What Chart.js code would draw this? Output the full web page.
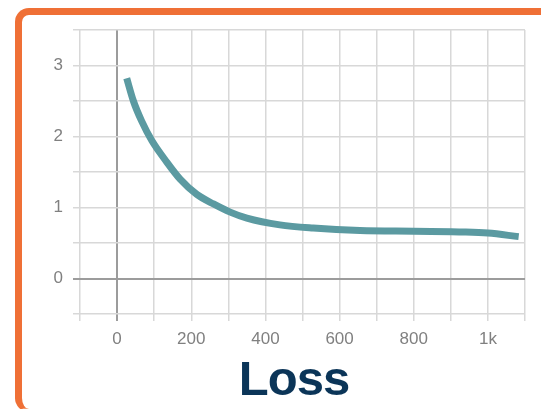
<!DOCTYPE html>
<html>
<head>
<meta charset="utf-8">
<script src="https://cdn.jsdelivr.net/npm/chart.js@4/dist/chart.umd.min.js"></script>
<style>
  html, body { margin: 0; padding: 0; background: #ffffff; }
  body { width: 541px; height: 409px; position: relative; overflow: hidden; }
  #frame {
    position: absolute; left: 15px; top: 8px; width: 580px; height: 394px;
    border: 7px solid #ef7036; border-bottom: 3px solid #f29a6c;
    border-radius: 14px; box-sizing: content-box;
  }
  #chart { position: absolute; left: 0; top: 0; }
  #title {
    position: absolute; left: 294px; top: 354px; transform: translateX(-50%);
    font: bold 49px "Liberation Sans", Arial, sans-serif; line-height: 49px;
    letter-spacing: -1px; color: #0b3558; white-space: nowrap;
  }
</style>
</head>
<body>
<div id="frame"></div>
<canvas id="chart" width="541" height="409"></canvas>
<div id="title">Loss</div>
<script>
// Data
const steps  = [26, 44, 66, 94, 134, 170, 215, 260, 305, 350, 439, 529, 655, 801, 940, 1000, 1083];
const losses = [2.82, 2.50, 2.22, 1.94, 1.64, 1.40, 1.185, 1.05, 0.935, 0.85, 0.755, 0.71, 0.675, 0.665, 0.655, 0.64, 0.59];
const xTickValues = [0, 200, 400, 600, 800, 1000];
const xTickText   = ['0', '200', '400', '600', '800', '1k'];
const yTickValues = [0, 1, 2, 3];
const yTickText   = ['0', '1', '2', '3'];

const points = steps.map((s, i) => ({ x: s, y: losses[i] }));

const gridColor = (ctx) => (ctx.tick && ctx.tick.value === 0 ? '#9c9c9c' : '#d8d8d8');
const gridWidth = (ctx) => (ctx.tick && ctx.tick.value === 0 ? 2 : 1.5);

new Chart(document.getElementById('chart'), {
  type: 'line',
  data: {
    datasets: [{
      data: points,
      borderColor: '#5b9aa1',
      borderWidth: 7,
      pointRadius: 0,
      fill: false,
      cubicInterpolationMode: 'monotone'
    }]
  },
  options: {
    responsive: false,
    animation: false,
    layout: { padding: { top: 30, left: 0, right: 16, bottom: 55 } },
    plugins: { legend: { display: false }, tooltip: { enabled: false }, title: { display: false } },
    scales: {
      x: {
        type: 'linear', min: -100, max: 1100,
        afterFit: (s) => { s.height = 40; },
        border: { display: false },
        grid: { color: gridColor, lineWidth: gridWidth, tickLength: 7, drawTicks: true },
        ticks: {
          stepSize: 100, autoSkip: false, maxRotation: 0, padding: 8,
          color: '#808080', font: { family: '"Liberation Sans", Arial, sans-serif', size: 17 },
          callback: (v) => { const i = xTickValues.indexOf(v); return i >= 0 ? xTickText[i] : ''; }
        }
      },
      y: {
        type: 'linear', min: -0.5, max: 3.5,
        afterFit: (s) => { s.width = 80; },
        border: { display: false },
        grid: { color: gridColor, lineWidth: gridWidth, tickLength: 7, drawTicks: true },
        ticks: {
          stepSize: 0.5, autoSkip: false, padding: 10,
          color: '#808080', font: { family: '"Liberation Sans", Arial, sans-serif', size: 17 },
          callback: (v) => { const i = yTickValues.indexOf(v); return i >= 0 ? yTickText[i] : ''; }
        }
      }
    }
  }
});
</script>
</body>
</html>
